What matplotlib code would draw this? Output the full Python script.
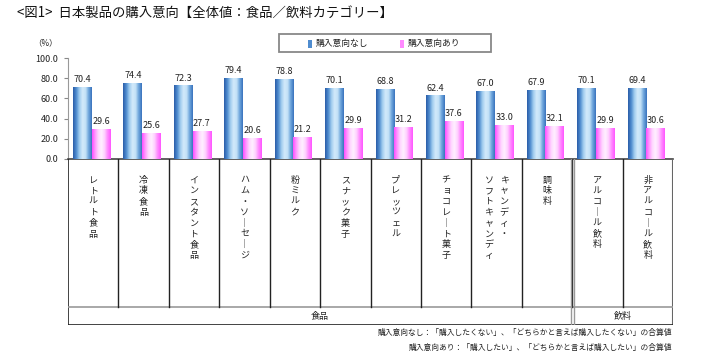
import numpy as np
import matplotlib.pyplot as plt
from matplotlib.colors import LinearSegmentedColormap
from matplotlib.patches import Rectangle

plt.rcParams['font.family'] = ['Noto Sans CJK JP', 'DejaVu Sans']

# データ
categories = ['レトルト食品', '冷凍食品', 'インスタント食品', 'ハム・ソーセージ', '粉ミルク',
              'スナック菓子', 'プレッツェル', 'チョコレート菓子', 'キャンディ・\nソフトキャンディ',
              '調味料', 'アルコール飲料', '非アルコール飲料']
no_intent = [70.4, 74.4, 72.3, 79.4, 78.8, 70.1, 68.8, 62.4, 67.0, 67.9, 70.1, 69.4]
yes_intent = [29.6, 25.6, 27.7, 20.6, 21.2, 29.9, 31.2, 37.6, 33.0, 32.1, 29.9, 30.6]
groups = ['食品', '飲料']
group_sizes = [10, 2]
series_names = ['購入意向なし', '購入意向あり']
yticks = [0, 20, 40, 60, 80, 100]

W, H = 711, 357
fig = plt.figure(figsize=(W / 100, H / 100), dpi=100)

# 図の位置（ピクセル）
x0, x1 = 68, 673
y_top, y_axis, y_row, y_bot = 58, 159, 307, 325

ax = fig.add_axes([x0 / W, 1 - y_axis / H, (x1 - x0) / W, (y_axis - y_top) / H])
n = len(categories)
idx = np.arange(n)
bw = 0.37

blue_cmap = LinearSegmentedColormap.from_list(
    'b', ['#2B5EA9', '#4F8CCF', '#9FCBEE', '#D2EAFA', '#C4E2F7', '#6FA6DC', '#3A74BE'])
pink_cmap = LinearSegmentedColormap.from_list(
    'p', ['#FF4DFF', '#FF9AFF', '#FFD8FF', '#FFF0FF', '#FFD0FF', '#FF8AFF', '#FF55FF'])

b1 = ax.bar(idx + 0.1, no_intent, bw, align='edge', color='#6FA6DC', zorder=2)
b2 = ax.bar(idx + 0.1 + bw, yes_intent, bw, align='edge', color='#FFB0FF', zorder=2)

grad = np.linspace(0, 1, 64).reshape(1, -1)
for bars, cmap in ((b1, blue_cmap), (b2, pink_cmap)):
    for p in bars:
        ax.imshow(grad, cmap=cmap, aspect='auto', zorder=3,
                  extent=[p.get_x(), p.get_x() + p.get_width(), 0, p.get_height()])

for bars, vals in ((b1, no_intent), (b2, yes_intent)):
    for p, v in zip(bars, vals):
        ax.annotate(f'{v:.1f}', (p.get_x() + p.get_width() / 2, v), xytext=(0, 2.5),
                    textcoords='offset points', ha='center', va='bottom',
                    fontsize=6.5, color='#222222', zorder=4)

ax.set_xlim(0, n)
ax.set_ylim(0, 100)
ax.set_yticks(yticks)
ax.set_yticklabels([f'{t:.1f}' for t in yticks], fontsize=6.5, color='#222222')
ax.set_xticks([])
ax.tick_params(axis='y', length=3, color='#888888', pad=4)
for s in ['top', 'right']:
    ax.spines[s].set_visible(False)
ax.spines['left'].set_color('#999999')
ax.spines['bottom'].set_color('#444444')
ax.spines['bottom'].set_linewidth(1.2)

fig.text(45 / W, 1 - 43 / H, '（%）', fontsize=6, ha='center', va='center', color='#222222')

# 表（カテゴリー名）
tab = fig.add_axes([x0 / W, 1 - y_bot / H, (x1 - x0) / W, (y_bot - y_axis) / H])
tab.set_xlim(0, n)
tab.set_ylim(y_bot - y_axis, 0)
tab.axis('off')
hr = y_row - y_axis
hb = y_bot - y_axis
lc = '#222222'
tab.plot([0, 0], [0, hb], color=lc, lw=1.2)
tab.plot([n, n], [0, hb], color='#666666', lw=1.5)
tab.plot([0, n], [hb, hb], color=lc, lw=1.2)
tab.plot([0, n], [hr, hr], color='#999999', lw=1.2)
for i in range(1, n):
    tab.plot([i, i], [0, hr], color=lc, lw=1.0)
pos = 0
for g, sz in zip(groups, group_sizes):
    if pos > 0:
        tab.plot([pos - 0.03, pos - 0.03], [0, hb], color='#999999', lw=1.0)
        tab.plot([pos + 0.03, pos + 0.03], [0, hb], color='#999999', lw=1.0)
    tab.text(pos + sz / 2, (hr + hb) / 2, g, fontsize=6.5, ha='center', va='center', color=lc)
    pos += sz

pitch = 10.8
for i, name in enumerate(categories):
    cols = name.split('\n')
    nc = len(cols)
    for c, col in enumerate(cols):
        # 縦書き：最初の列が右
        xc = i + 0.5 + (nc - 1) * 0.15 - c * 0.3
        for k, ch in enumerate(col):
            if ch == 'ー':
                tab.text(xc, 21 + k * pitch, '｜', fontsize=6.5, ha='center', va='center',
                         color=lc)
            else:
                tab.text(xc, 21 + k * pitch, ch, fontsize=6.5, ha='center', va='center',
                         color=lc)

# 凡例
fig.add_artist(Rectangle((279 / W, 1 - 52 / H), 212 / W, 18 / H, transform=fig.transFigure,
                         facecolor='white', edgecolor='#888888', lw=1.3))
for xm, name, col in ((308, series_names[0], '#4F8CCF'), (400, series_names[1], '#FF8AFF')):
    fig.add_artist(Rectangle((xm / W, 1 - 47.5 / H), 4 / W, 7 / H, transform=fig.transFigure,
                             facecolor=col, edgecolor='none'))
    fig.text((xm + 8) / W, 1 - 43.5 / H, name, fontsize=6.3, ha='left', va='center', color='#222222')

# タイトル
fig.text(17 / W, 1 - 13 / H, '<図1>  日本製品の購入意向【全体値：食品／飲料カテゴリー】',
         fontsize=9.6, ha='left', va='center', color='#111111')

# 注記
fig.text(672 / W, 1 - 333 / H, '購入意向なし：「購入したくない」、「どちらかと言えば購入したくない」の合算値',
         fontsize=5.6, ha='right', va='center', color='#222222')
fig.text(672 / W, 1 - 348 / H, '購入意向あり：「購入したい」、「どちらかと言えば購入したい」の合算値',
         fontsize=5.6, ha='right', va='center', color='#222222')

fig.savefig('out.png', dpi=100)
